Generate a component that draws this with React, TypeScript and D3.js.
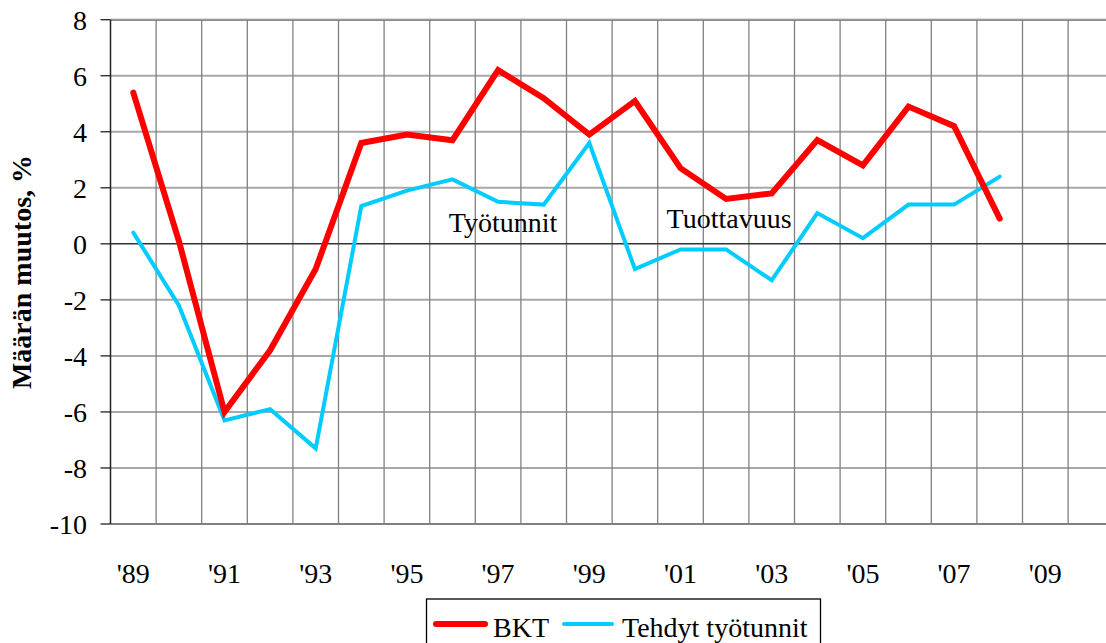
import React from "react";
import * as d3 from "d3";

const years = ["89","90","91","92","93","94","95","96","97","98","99","00","01","02","03","04","05","06","07","08","09","10"];
const bkt = [5.4, 0.1, -6.0, -3.8, -0.9, 3.6, 3.9, 3.7, 6.2, 5.2, 3.9, 5.1, 2.7, 1.6, 1.8, 3.7, 2.8, 4.9, 4.2, 0.9];
const tyotunnit = [0.4, -2.2, -6.3, -5.9, -7.3, 1.35, 1.9, 2.3, 1.5, 1.4, 3.6, -0.9, -0.2, -0.2, -1.3, 1.1, 0.2, 1.4, 1.4, 2.4];
const yTicks = [8, 6, 4, 2, 0, -2, -4, -6, -8, -10];
const xTickLabels = ["89","91","93","95","97","99","01","03","05","07","09"];
const seriesNames = ["BKT", "Tehdyt työtunnit"];
const annotations = [
  { text: "Työtunnit", year: "97", value: 0.42, dx: 5 },
  { text: "Tuottavuus", year: "02", value: 0.55, dx: 3 },
];

const W = 1106, H = 643;
const left = 110.5, top = 19.7, bottom = 524, band = 45.6;
const FONT = "Liberation Serif, Times New Roman, Tinos, DejaVu Serif, serif";

export default function App() {
  const x = d3.scaleBand<string>().domain(years).range([left, left + band * years.length]).padding(0);
  const y = d3.scaleLinear().domain([-10, 8]).range([bottom, top]);
  const cx = (i: number) => (x(years[i]) as number) + x.bandwidth() / 2;
  const line = d3.line<number>().x((_, i) => cx(i)).y((d) => y(d));
  const right = left + band * years.length;
  const ts = { fontFamily: FONT };

  return (
    <svg width={W} height={H} style={{ position: "fixed", left: 0, top: 0, background: "#fff", fontFamily: FONT }}>
      <rect x={0} y={0} width={W} height={H} fill="#fff" />
      {yTicks.filter((t) => t !== 0 && t !== -10).map((t) => (
        <line key={"h" + t} x1={left} x2={right} y1={y(t)} y2={y(t)} stroke="#a8a8a8" strokeWidth={2} />
      ))}
      {years.slice(1).map((yr) => (
        <line key={"v" + yr} x1={x(yr) as number} x2={x(yr) as number} y1={top} y2={bottom} stroke="#808080" strokeWidth={1.3} />
      ))}
      <line x1={left} x2={right} y1={top - 0.7} y2={top - 0.7} stroke="#cfcfcf" strokeWidth={1} />
      <line x1={left} x2={right} y1={top + 0.5} y2={top + 0.5} stroke="#7a7a7a" strokeWidth={1.3} />
      <line x1={left} x2={right} y1={y(0)} y2={y(0)} stroke="#333" strokeWidth={1.5} />
      <line x1={left} x2={right} y1={bottom} y2={bottom} stroke="#808080" strokeWidth={2} />
      <line x1={left} x2={left} y1={top} y2={bottom} stroke="#222" strokeWidth={1.5} />
      {yTicks.map((t) => (
        <g key={"yt" + t}>
          <line x1={left - 10} x2={left} y1={y(t)} y2={y(t)} stroke="#222" strokeWidth={1.3} />
          <text x={87} y={y(t)} dy="0.35em" textAnchor="end" fontSize={28} fill="#000" style={ts}>{t}</text>
        </g>
      ))}
      {xTickLabels.map((l) => (
        <text key={"xt" + l} x={(x(l) as number) + x.bandwidth() / 2} y={583} textAnchor="middle" fontSize={28} fill="#000" style={ts}>{"'" + l}</text>
      ))}
      <text transform={`translate(31,272) rotate(-90)`} textAnchor="middle" fontSize={28} fontWeight="bold" fill="#000" style={ts}>Määrän muutos, %</text>
      <path d={line(tyotunnit) as string} fill="none" stroke="#00CCFF" strokeWidth={4} strokeLinejoin="miter" strokeLinecap="round" />
      <path d={line(bkt) as string} fill="none" stroke="#FF0000" strokeWidth={6} strokeLinejoin="miter" strokeLinecap="round" />
      {annotations.map((a) => (
        <text key={a.text} x={(x(a.year) as number) + x.bandwidth() / 2 + a.dx} y={y(a.value)} textAnchor="middle" fontSize={28} fill="#000" style={ts}>{a.text}</text>
      ))}
      <rect x={426.5} y={599} width={394} height={60} fill="#fff" stroke="#000" strokeWidth={1.3} />
      <line x1={436} x2={485} y1={624} y2={624} stroke="#FF0000" strokeWidth={6} strokeLinecap="round" />
      <text x={493} y={636.5} fontSize={28} fill="#000" style={ts}>{seriesNames[0]}</text>
      <line x1={564} x2={612} y1={624} y2={624} stroke="#00CCFF" strokeWidth={4} strokeLinecap="round" />
      <text x={622} y={636.5} fontSize={28} fill="#000" style={ts}>{seriesNames[1]}</text>
    </svg>
  );
}
